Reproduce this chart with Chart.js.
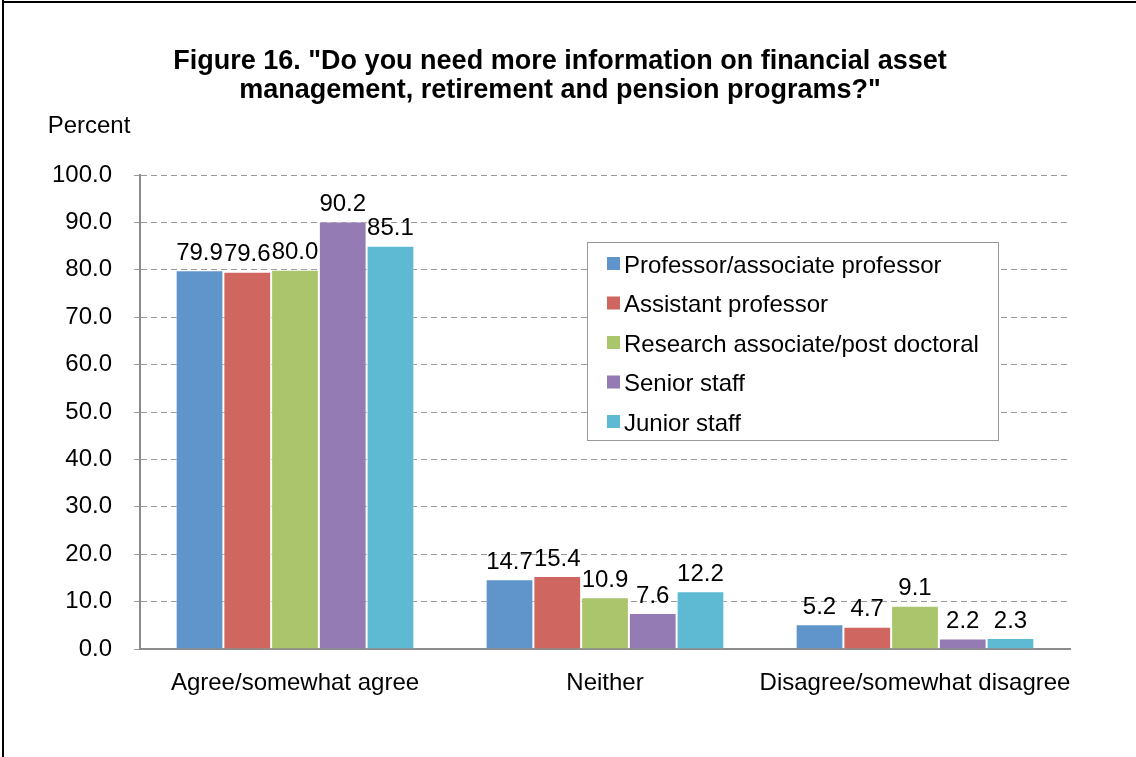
<!DOCTYPE html>
<html>
<head>
<meta charset="utf-8">
<script src="https://cdn.jsdelivr.net/npm/chart.js@4/dist/chart.umd.min.js"></script>
<style>
  html, body { margin: 0; padding: 0; background: #fff; }
  canvas { display: block; }
</style>
</head>
<body>
<canvas id="chart" width="1136" height="757"></canvas>
<script>
// Figure 16 - need for info on financial asset mgmt / retirement / pension, by staff group
const categories = ['Agree/somewhat agree', 'Neither', 'Disagree/somewhat disagree'];
const groups = ['Professor/associate professor', 'Assistant professor', 'Research associate/post doctoral', 'Senior staff', 'Junior staff'];
const professor = [79.9, 14.7, 5.2];
const assistant = [79.6, 15.4, 4.7];
const research = [80.0, 10.9, 9.1];
const seniorStaff = [90.2, 7.6, 2.2];
const juniorStaff = [85.1, 12.2, 2.3];
const yTicks = [0, 10, 20, 30, 40, 50, 60, 70, 80, 90, 100];

const colors = ['#6095cb', '#cf6660', '#aac56b', '#957bb3', '#5dbad2'];
const series = [professor, assistant, research, seniorStaff, juniorStaff];
const FONT = '"Liberation Sans", Arial, sans-serif';
const TXT = 24;

const valueLabels = {
  id: 'valueLabels',
  afterDatasetsDraw(chart) {
    const ctx = chart.ctx;
    ctx.save();
    ctx.font = TXT + 'px ' + FONT;
    ctx.fillStyle = '#000';
    ctx.textAlign = 'center';
    ctx.textBaseline = 'bottom';
    chart.data.datasets.forEach((ds, i) => {
      chart.getDatasetMeta(i).data.forEach((bar, j) => {
        ctx.fillText(ds.data[j].toFixed(1), bar.x, bar.y - 5);
      });
    });
    ctx.restore();
  }
};

const decorations = {
  id: 'decorations',
  beforeDraw(chart) {
    const ctx = chart.ctx;
    ctx.save();
    ctx.fillStyle = '#fff';
    ctx.fillRect(0, 0, chart.width, chart.height);
    ctx.restore();
  },
  afterDraw(chart) {
    const ctx = chart.ctx;
    ctx.save();
    // outer frame (left + top only, rest is cropped)
    ctx.fillStyle = '#000';
    ctx.fillRect(2, 0, 2, chart.height);
    ctx.fillRect(2, 1, chart.width, 2);

    // title
    ctx.fillStyle = '#000';
    ctx.textAlign = 'center';
    ctx.textBaseline = 'middle';
    ctx.font = 'bold 27px ' + FONT;
    ctx.fillText('Figure 16. "Do you need more information on financial asset', 560, 62);
    ctx.fillText('management, retirement and pension programs?"', 560, 91);

    // axis title
    ctx.font = TXT + 'px ' + FONT;
    ctx.fillText('Percent', 89, 126);

    // legend box
    const lx = 587, ly = 242, lw = 411, lh = 198;
    ctx.strokeStyle = '#999';
    ctx.lineWidth = 1;
    ctx.fillStyle = '#fff';
    ctx.fillRect(lx, ly, lw, lh);
    ctx.strokeRect(lx + 0.5, ly + 0.5, lw, lh);
    ctx.textAlign = 'left';
    chart.data.datasets.forEach((ds, i) => {
      const y = 265 + i * 39.5;
      ctx.fillStyle = ds.backgroundColor;
      ctx.fillRect(607, y - 8, 13, 13);
      ctx.fillStyle = '#000';
      ctx.font = TXT + 'px ' + FONT;
      ctx.fillText(ds.label, 624, y + 1);
    });
    ctx.restore();
  }
};

new Chart(document.getElementById('chart'), {
  type: 'bar',
  data: {
    labels: categories,
    datasets: groups.map((g, i) => ({
      label: g,
      data: series[i],
      backgroundColor: colors[i],
      borderColor: 'rgba(255,255,255,0.6)',
      borderWidth: 1,
      barPercentage: 1,
      categoryPercentage: 0.77,
    })),
  },
  options: {
    responsive: false,
    animation: false,
    layout: { padding: { top: 175, right: 66, bottom: 0, left: 0 } },
    plugins: { legend: { display: false }, title: { display: false }, tooltip: { enabled: false } },
    scales: {
      x: {
        afterFit: s => { s.height = 108; },
        grid: { display: false },
        border: { display: true, color: '#8c8c8c', width: 2 },
        ticks: { color: '#000', font: { family: FONT, size: TXT }, padding: 12, maxRotation: 0, autoSkip: false },
      },
      y: {
        min: 0,
        max: 100,
        afterFit: s => { s.width = 140; },
        afterBuildTicks: s => { s.ticks = yTicks.map(v => ({ value: v })); },
        grid: { color: '#9a9a9a', lineWidth: 1, tickLength: 6, tickBorderDash: [] },
        border: { display: true, color: '#8c8c8c', width: 2, dash: [6, 4] },
        ticks: {
          color: '#000',
          font: { family: FONT, size: TXT },
          padding: 22,
          callback: v => Number(v).toFixed(1),
        },
      },
    },
  },
  plugins: [decorations, valueLabels],
});
</script>
</body>
</html>
